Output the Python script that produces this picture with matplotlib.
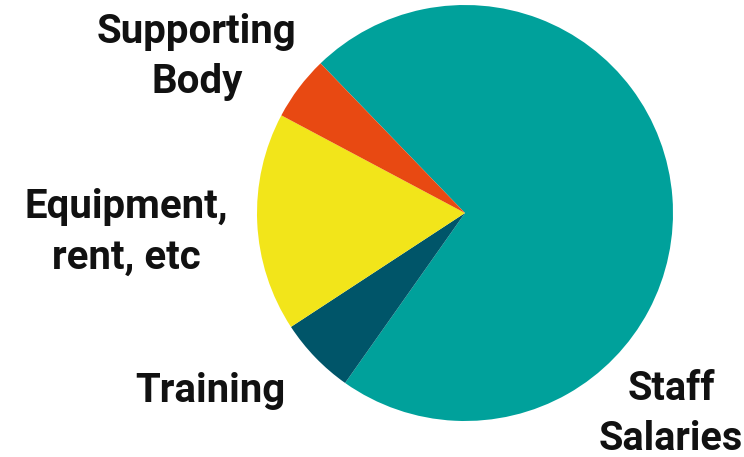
import matplotlib
matplotlib.use("Agg")
import matplotlib.pyplot as plt

labels = ["Staff\nSalaries", "Training", "Equipment,\nrent, etc", "Supporting\nBody"]
values = [72, 6, 17, 5]
colors = ["#00A19B", "#005569", "#F2E51A", "#E84912"]

W, H = 744, 457
cx, cy, r = 465, 213, 208
fig = plt.figure(figsize=(W / 100, H / 100), dpi=100)
ax = fig.add_axes([(cx - r) / W, (H - cy - r) / H, 2 * r / W, 2 * r / H])
ax.pie(values, colors=colors, startangle=134, counterclock=False, radius=1,
       wedgeprops=dict(linewidth=0))
ax.set_xlim(-1, 1)
ax.set_ylim(-1, 1)
ax.set_aspect("equal")
ax.axis("off")

label_px = [(671, 414), (210, 391), (126, 232), (197, 57)]
sizes = [28.5, 29, 29, 29]
for lab, (px, py), fs in zip(labels, label_px, sizes):
    fig.text(px / W, 1 - py / H, lab, ha="center", va="center",
             fontsize=fs, fontweight="bold", family=["Roboto", "DejaVu Sans"],
             linespacing=1.42, color="#111111")

fig.savefig("out.png", dpi=100)
